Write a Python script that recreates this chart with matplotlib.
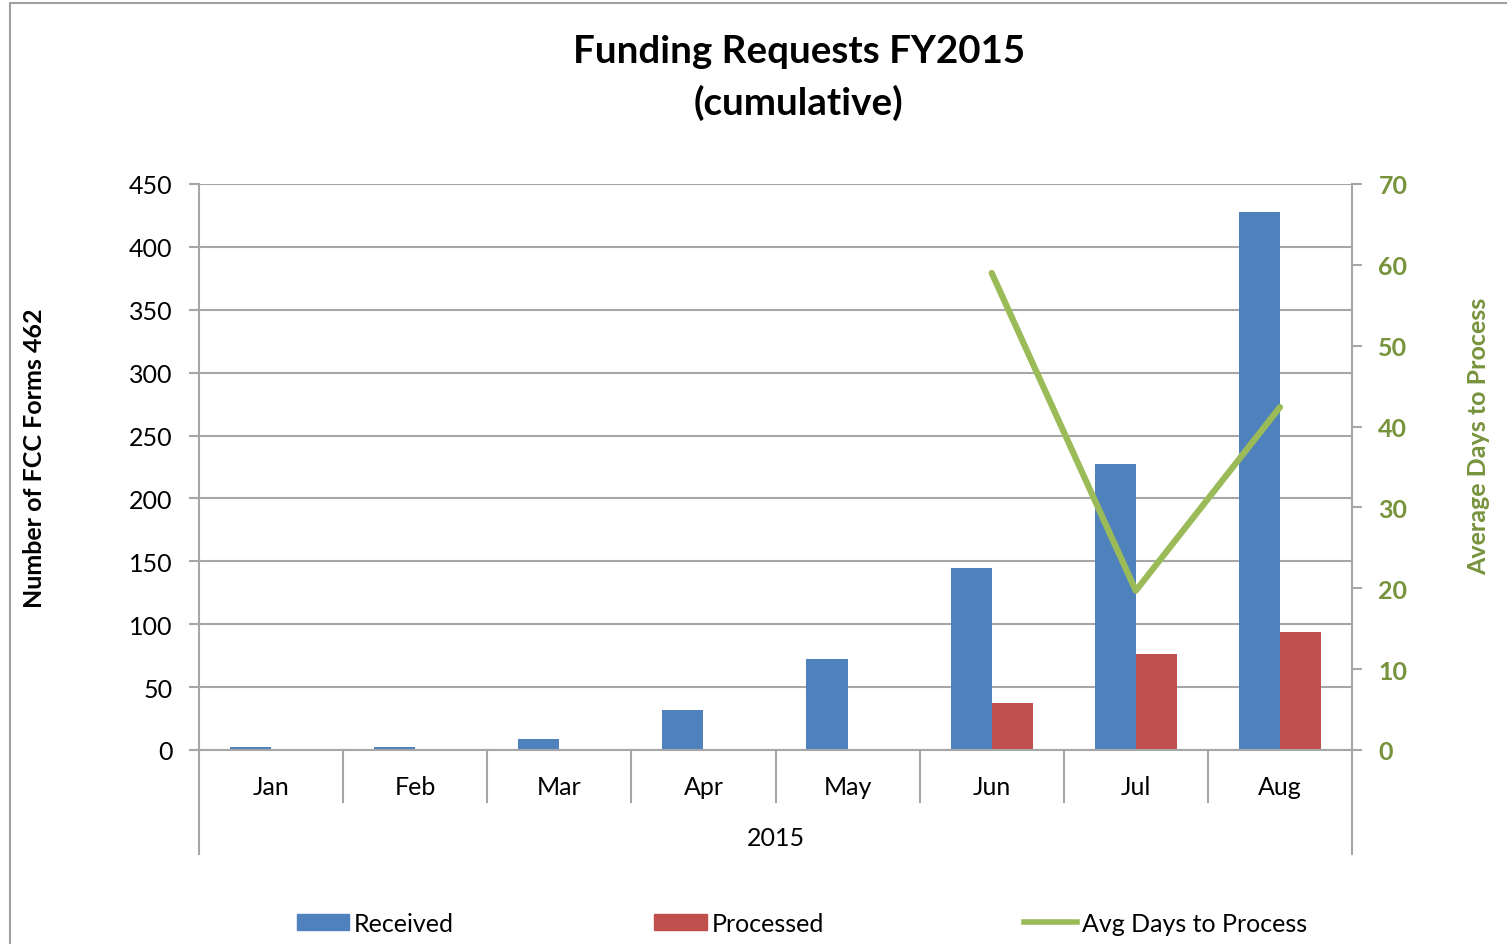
import numpy as np
import matplotlib.pyplot as plt
from matplotlib.patches import Patch, Rectangle
from matplotlib.lines import Line2D
import matplotlib.transforms as mtransforms

plt.rcParams['font.family'] = ['Lato', 'DejaVu Sans']

# Data
months = ['Jan', 'Feb', 'Mar', 'Apr', 'May', 'Jun', 'Jul', 'Aug']
received = [2, 2, 9, 32, 72, 145, 227, 428]
processed = [0, 0, 0, 1, 1, 37, 76, 94]
avg_days_months = ['Jun', 'Jul', 'Aug']
avg_days = [59, 19.7, 42.4]

blue = '#4F81BD'
red = '#C0504D'
green = '#9BBB59'
dkgreen = '#77933C'
grid = '#A6A6A6'
fs = 18

fig = plt.figure(figsize=(15.07, 9.45), dpi=100)
ax = fig.add_axes([199/1507, 1-751/945, 1153/1507, 566/945])

x = np.arange(len(months))
w = 0.285
ax.bar(x - w/2, received, w, color=blue, label='Received')
ax.bar(x + w/2, processed, w, color=red, label='Processed')

ax.set_xlim(-0.5, len(months) - 0.5)
ax.set_ylim(0, 450)
ax.set_yticks(range(0, 451, 50))
ax.yaxis.grid(True, color=grid, linewidth=1.5)
ax.set_axisbelow(True)
for s in ['top', 'right']:
    ax.spines[s].set_visible(False)
ax.spines['left'].set_color(grid)
ax.spines['left'].set_linewidth(1.5)
ax.spines['bottom'].set_color(grid)
ax.spines['bottom'].set_linewidth(1.5)
ax.tick_params(axis='y', labelsize=fs, length=7, width=1.5, color=grid, pad=12)
ax.set_xticks([])
ax.set_ylabel('Number of FCC Forms 462', fontsize=fs, fontweight='bold')
ax.yaxis.set_label_coords(-0.133, 0.518)

# two-level category axis
trans = mtransforms.blended_transform_factory(ax.transData, ax.transAxes)
for i in range(len(months) + 1):
    bottom = -0.184 if i in (0, len(months)) else -0.092
    ax.plot([i - 0.5, i - 0.5], [0, bottom], color=grid, lw=1.5,
            transform=trans, clip_on=False)
for i, m in enumerate(months):
    ax.text(i, -0.064, m, transform=trans, ha='center', va='center', fontsize=fs)
ax.text((len(months) - 1) / 2, -0.154, '2015', transform=trans,
        ha='center', va='center', fontsize=fs)

# secondary axis
ax2 = ax.twinx()
xi = [months.index(m) for m in avg_days_months]
ax2.plot(xi, avg_days, color=green, lw=4.5, solid_capstyle='round')
ax2.set_ylim(0, 70)
ax2.set_yticks(range(0, 71, 10), [str(v) for v in range(0, 71, 10)],
               fontweight='bold')
for s in ['top', 'left', 'bottom']:
    ax2.spines[s].set_visible(False)
ax2.spines['right'].set_color(grid)
ax2.spines['right'].set_linewidth(1.5)
ax2.tick_params(axis='y', labelsize=fs, length=7, width=1.5, color=grid,
                labelcolor=dkgreen, pad=12)
ax2.set_ylabel('Average Days to Process', fontsize=fs, fontweight='bold',
               color=dkgreen)
ax2.yaxis.set_label_coords(1.100, 0.556)

fig.text(0.53, 1 - 52/945, 'Funding Requests FY2015', ha='center',
         va='center', fontsize=27.7, fontweight='bold')
fig.text(0.53, 1 - 103/945, '(cumulative)', ha='center',
         va='center', fontsize=27.7, fontweight='bold')

handles = [Patch(color=blue), Patch(color=red), Line2D([], [], color=green, lw=4)]
fig.legend(handles, ['Received', 'Processed', 'Avg Days to Process'],
           loc='center', bbox_to_anchor=(0.532, 0.022), ncol=3, frameon=False,
           fontsize=fs, handlelength=2.1, handleheight=0.6, handletextpad=0.2,
           columnspacing=8)

fig.patches.append(Rectangle((10/1507, -0.01), 1.0, 1 - 4/945 + 0.01,
                             transform=fig.transFigure, fill=False,
                             edgecolor='#A0A0A0', lw=1.5))

fig.savefig('out.png', dpi=100)
